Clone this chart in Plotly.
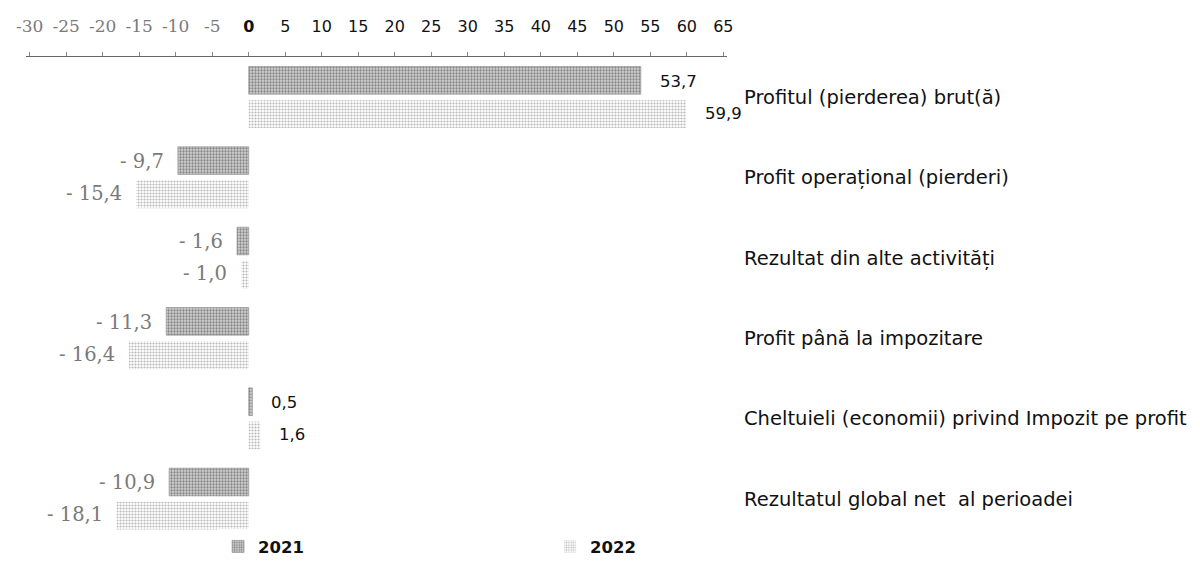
import plotly.graph_objects as go

categories = [
    "Profitul (pierderea) brut(ă)",
    "Profit operațional (pierderi)",
    "Rezultat din alte activități",
    "Profit până la impozitare",
    "Cheltuieli (economii) privind Impozit pe profit",
    "Rezultatul global net  al perioadei",
]
series_names = ["2021", "2022"]
values_2021 = [53.7, -9.7, -1.6, -11.3, 0.5, -10.9]
values_2022 = [59.9, -15.4, -1.0, -16.4, 1.6, -18.1]
tick_values = list(range(-30, 70, 5))

SANS = "DejaVu Sans"
SERIF = "DejaVu Serif"


def fmt(v):
    s = f"{abs(v):.1f}".replace(".", ",")
    return f"- {s}" if v < 0 else s


fig = go.Figure()
styles = [
    dict(fg="#858585", bg="#d2d2d2", size=3, sol=0.45, line="#8a8a8a"),
    dict(fg="#b8b8b8", bg="#ffffff", size=3, sol=0.4, line="rgba(0,0,0,0)"),
]
for name, vals, st in zip(series_names, [values_2021, values_2022], styles):
    fig.add_trace(go.Bar(
        y=categories, x=vals, name=name, orientation="h",
        marker=dict(
            color=st["bg"],
            line=dict(color=st["line"], width=0.6),
            pattern=dict(shape=".", fgcolor=st["fg"], bgcolor=st["bg"],
                         size=st["size"], solidity=st["sol"], fillmode="replace"),
        ),
        hoverinfo="skip",
    ))

# value labels
annotations = []
for vals, ysh in [(values_2021, 16), (values_2022, -16)]:
    for cat, v in zip(categories, vals):
        pos = v >= 0
        annotations.append(dict(
            x=v, y=cat, xref="x", yref="y", text=fmt(v), showarrow=False,
            xanchor="left" if pos else "right", yanchor="middle",
            xshift=17 if pos else -12, yshift=ysh,
            font=dict(family=SANS if pos else SERIF,
                      size=16.5 if pos else 19.5,
                      color="#111111" if pos else "#7a7a7a"),
        ))

tick_text = []
for t in tick_values:
    if t < 0:
        tick_text.append(f'<span style="font-family:{SERIF};color:#7a7a7a;font-size:17px">{t}</span>')
    elif t == 0:
        tick_text.append(f"<b>{t}</b>")
    else:
        tick_text.append(str(t))

# the page body adds an 8px margin, so the figure is drawn 8px smaller
fig.update_layout(
    width=1192, height=564,
    paper_bgcolor="white", plot_bgcolor="white",
    margin=dict(l=18, r=473, t=49, b=8),
    barmode="group", bargap=0.16, bargroupgap=0.18,
    font=dict(family=SANS, size=16, color="#111111"),
    xaxis=dict(
        side="top", range=[-30.5, 65.5], automargin=False,
        tickvals=tick_values, ticktext=tick_text,
        tickfont=dict(family=SANS, size=16, color="#111111"),
        showgrid=False, zeroline=False,
        showline=True, linecolor="#666666", linewidth=1,
        ticks="outside", ticklen=4, tickcolor="#888888",
        ticklabelstandoff=14,
    ),
    yaxis=dict(
        side="right", autorange="reversed", automargin=False,
        domain=[0.03, 1],
        showgrid=False, zeroline=False, showline=False, ticks="",
        tickfont=dict(family=SANS, size=19.5, color="#111111"),
        ticklabelstandoff=16,
    ),
    legend=dict(
        orientation="h", x=0.274, xanchor="left", y=0.05, yanchor="top",
        font=dict(family=SANS, size=16.5, color="#111111", weight="bold"),
        entrywidth=287, itemwidth=30, traceorder="normal",
    ),
    annotations=annotations,
)

fig.write_html("out.html")
